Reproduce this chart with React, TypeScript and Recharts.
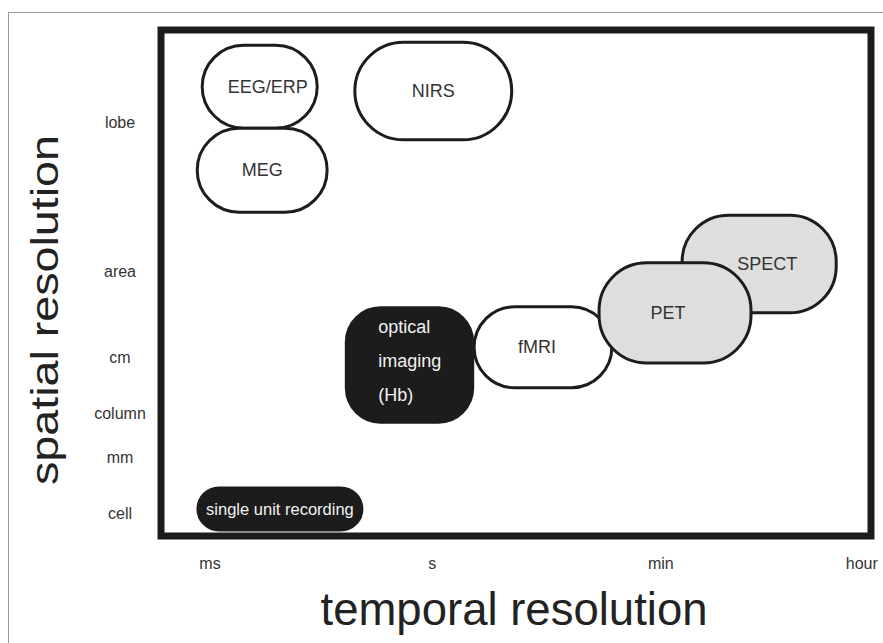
import React from "react";
import { ReferenceArea, Scatter, ScatterChart, XAxis, YAxis } from "recharts";

// axis ticks (positions on a 0-100 relative scale)
const timeTicks = ["ms", "s", "min", "hour"];
const timeTickPos = [6.9, 38.2, 70.4, 98.7];
const spaceTicks = ["lobe", "area", "cm", "column", "mm", "cell"];
const spaceTickPos = [81.8, 52.2, 35.2, 24.3, 15.6, 4.5];

// methods, in drawing order, with their temporal / spatial ranges
const methods = ["fMRI", "SPECT", "PET", "optical imaging (Hb)", "EEG/ERP", "MEG", "NIRS", "single unit recording"];
const timeFrom = [44.1, 73.4, 61.7, 26.1, 5.8, 5.1, 27.3, 5.2];
const timeTo = [63.5, 95.1, 83.1, 43.9, 22.0, 23.4, 49.4, 28.3];
const spaceFrom = [29.3, 44.1, 34.2, 22.5, 80.6, 64.0, 78.3, 1.2];
const spaceTo = [45.3, 63.4, 54.0, 45.1, 97.0, 80.6, 97.6, 9.5];

const FONT = "'Liberation Sans', Arial, sans-serif";
const DARK = "#1c1c1c";

const pillStyle: Record<string, { fill: string; text: string; round: number; dx: number; lines: string[] }> = {
  fMRI: { fill: "#ffffff", text: "#333", round: 1, dx: -6, lines: ["fMRI"] },
  SPECT: { fill: "#dedede", text: "#333", round: 0.95, dx: 8, lines: ["SPECT"] },
  PET: { fill: "#dedede", text: "#333", round: 0.95, dx: -7, lines: ["PET"] },
  "optical imaging (Hb)": { fill: DARK, text: "#f2f2f2", round: 0.6, dx: 0, lines: ["optical", "imaging", "(Hb)"] },
  "EEG/ERP": { fill: "#ffffff", text: "#333", round: 1, dx: 8, lines: ["EEG/ERP"] },
  MEG: { fill: "#ffffff", text: "#333", round: 1, dx: 0, lines: ["MEG"] },
  NIRS: { fill: "#ffffff", text: "#333", round: 1, dx: 0, lines: ["NIRS"] },
  "single unit recording": { fill: DARK, text: "#f2f2f2", round: 1, dx: 0, lines: ["single unit recording"] },
};

// corner points of every range, so the axes have data to work with
const extentPoints = methods.flatMap((_, i) => [
  { t: timeFrom[i], s: spaceFrom[i] },
  { t: timeTo[i], s: spaceTo[i] },
]);

function Pill(props: any) {
  const { x, y, width, height, name } = props;
  const st = pillStyle[name];
  const r = (Math.min(width, height) / 2) * st.round;
  const cx = x + width / 2 + st.dx;
  const cy = y + height / 2;
  const multi = st.lines.length > 1;
  return (
    <g>
      <rect x={x} y={y} width={width} height={height} rx={r} ry={r} fill={st.fill} stroke={DARK} strokeWidth={3} />
      {st.lines.map((ln, i) => (
        <text
          key={ln}
          x={multi ? x + 32 : cx}
          y={multi ? cy - 4 + (i - 1) * 34 : cy}
          textAnchor={multi ? "start" : "middle"}
          dominantBaseline="central"
          fontFamily={FONT}
          fontSize={name === "single unit recording" ? 16.5 : 18}
          fill={st.text}
        >
          {ln}
        </text>
      ))}
    </g>
  );
}

function TimeTick(props: any) {
  const { x, y, payload } = props;
  const i = timeTickPos.indexOf(payload.value);
  return (
    <text x={x} y={y + 27} textAnchor="middle" dominantBaseline="central" fontFamily={FONT} fontSize={16} fill="#333">
      {timeTicks[i]}
    </text>
  );
}

function SpaceTick(props: any) {
  const { x, y, payload } = props;
  const i = spaceTickPos.indexOf(payload.value);
  return (
    <text x={x - 41} y={y} textAnchor="middle" dominantBaseline="central" fontFamily={FONT} fontSize={16} fill="#333">
      {spaceTicks[i]}
    </text>
  );
}

export default function App() {
  return (
    <>
      <style>{"html,body{margin:0;overflow:hidden;background:#fff}"}</style>
      <div style={{ position: "absolute", left: 8, top: 12, width: 875, height: 631, borderLeft: "1px solid #999", borderTop: "1px solid #999" }}>
        <ScatterChart width={874} height={630} margin={{ top: 17, right: 12, bottom: 0, left: 0 }}>
          <XAxis
            type="number"
            dataKey="t"
            domain={[0, 100]}
            allowDataOverflow
            ticks={timeTickPos}
            interval={0}
            height={107}
            axisLine={false}
            tickLine={false}
            tickSize={0}
            tickMargin={0}
            tick={(p: any) => <TimeTick {...p} />}
            label={{
              content: (p: any) => (
                <text
                  x={p.viewBox.x + p.viewBox.width / 2 - 2}
                  y={p.viewBox.y + 89}
                  textAnchor="middle"
                  fontFamily={FONT}
                  fontSize={46}
                  fill="#222"
                  textLength={387}
                  lengthAdjust="spacingAndGlyphs"
                >
                  temporal resolution
                </text>
              ),
            }}
          />
          <YAxis
            type="number"
            dataKey="s"
            domain={[0, 100]}
            allowDataOverflow
            ticks={spaceTickPos}
            interval={0}
            width={152}
            axisLine={false}
            tickLine={false}
            tickSize={0}
            tickMargin={0}
            tick={(p: any) => <SpaceTick {...p} />}
            label={{
              content: (p: any) => {
                const cx = p.viewBox.x + 36;
                const cy = p.viewBox.y + 280;
                return (
                  <text
                    x={cx}
                    y={cy}
                    transform={`rotate(-90 ${cx} ${cy})`}
                    textAnchor="middle"
                    dominantBaseline="central"
                    fontFamily={FONT}
                    fontSize={38}
                    fill="#222"
                    textLength={350}
                    lengthAdjust="spacingAndGlyphs"
                  >
                    spatial resolution
                  </text>
                );
              },
            }}
          />
          <Scatter data={extentPoints} isAnimationActive={false} shape={() => <g />} />
          <ReferenceArea x1={0} x2={100} y1={0} y2={100} fill="none" stroke={DARK} strokeWidth={7} ifOverflow="visible" />
          {methods.map((m, i) => (
            <ReferenceArea
              key={m}
              x1={timeFrom[i]}
              x2={timeTo[i]}
              y1={spaceFrom[i]}
              y2={spaceTo[i]}
              ifOverflow="visible"
              shape={(p: any) => <Pill {...p} name={m} />}
            />
          ))}
        </ScatterChart>
      </div>
    </>
  );
}
